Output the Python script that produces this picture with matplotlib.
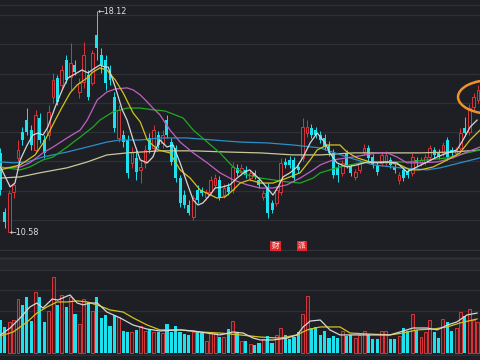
import matplotlib
matplotlib.use('Agg')
import matplotlib.pyplot as plt
from matplotlib.patches import Ellipse
import numpy as np

# daily candles (price)
opens = [13.29, 11.27, 10.59, 11.96, 13.12, 14.00, 14.41, 14.07, 13.39, 14.48,
         13.73, 13.90, 15.20, 15.85, 15.61, 16.46, 15.88, 16.29, 15.37, 15.71,
         15.95, 15.68, 17.32, 16.63, 16.46, 16.12, 15.20, 13.80, 13.90, 13.73,
         12.95, 13.12, 12.71, 12.95, 13.80, 13.46, 13.90, 13.63, 14.41, 13.66,
         13.46, 12.43, 11.85, 11.51, 11.10, 12.02, 12.02, 11.79, 11.96, 12.20,
         12.37, 11.85, 12.13, 12.02, 12.78, 12.64, 12.71, 12.43, 12.61, 12.37,
         11.79, 12.13, 11.58, 11.58, 11.96, 12.98, 13.05, 13.05, 12.81, 13.12,
         13.97, 14.14, 14.07, 13.90, 13.80, 13.56, 13.29, 12.78, 12.61, 13.29,
         12.81, 12.47, 12.71, 13.32, 13.46, 13.15, 12.88, 12.95, 12.95, 13.05,
         12.81, 12.37, 12.71, 12.64, 12.61, 13.05, 12.95, 12.98, 13.15, 13.39,
         13.32, 13.29, 13.73, 13.39, 13.29, 13.46, 14.14, 14.00, 14.86, 15.10]
closes = [12.02, 10.93, 11.92, 12.20, 13.39, 13.73, 14.00, 13.56, 14.59, 13.73,
          13.29, 14.69, 15.78, 15.03, 16.12, 15.78, 16.36, 16.05, 15.68, 16.63,
          15.20, 16.70, 16.87, 16.29, 15.68, 15.78, 14.14, 14.76, 13.66, 12.61,
          13.32, 12.64, 12.81, 13.39, 13.39, 14.07, 13.56, 13.90, 13.90, 12.98,
          12.43, 11.58, 11.51, 11.24, 11.75, 11.68, 11.92, 11.96, 12.37, 12.43,
          11.75, 12.09, 11.96, 12.81, 12.61, 12.78, 12.54, 12.61, 12.50, 12.20,
          11.92, 11.24, 11.34, 12.02, 12.95, 12.88, 12.88, 12.43, 12.71, 14.17,
          14.17, 13.90, 13.90, 13.73, 13.49, 13.29, 12.54, 12.54, 12.95, 12.88,
          12.61, 12.64, 12.95, 13.46, 13.12, 12.88, 12.64, 13.22, 13.22, 12.88,
          12.71, 12.54, 12.43, 12.54, 13.15, 12.95, 13.05, 13.15, 13.46, 13.22,
          13.19, 13.56, 13.15, 13.29, 13.39, 13.97, 13.97, 14.82, 15.20, 15.44]
highs = [13.46, 11.41, 12.02, 12.26, 13.73, 14.17, 14.82, 14.24, 14.76, 14.65,
         13.90, 14.93, 16.02, 15.95, 16.29, 16.63, 17.04, 16.46, 15.85, 17.07,
         16.12, 16.80, 18.12, 16.87, 16.63, 16.29, 15.37, 14.93, 14.07, 13.90,
         13.49, 13.39, 13.05, 13.56, 13.97, 14.24, 14.04, 14.07, 14.59, 13.80,
         13.56, 12.54, 12.02, 11.68, 11.85, 12.20, 12.13, 12.06, 12.50, 12.57,
         12.50, 12.23, 12.26, 12.98, 12.91, 12.91, 12.84, 12.71, 12.71, 12.47,
         12.02, 12.26, 11.68, 12.13, 13.12, 13.12, 13.19, 13.15, 12.95, 14.48,
         14.41, 14.28, 14.17, 14.04, 13.94, 13.70, 13.42, 12.91, 13.05, 13.39,
         12.91, 12.74, 13.05, 13.59, 13.56, 13.26, 12.98, 13.32, 13.36, 13.15,
         12.91, 12.64, 12.81, 12.74, 13.29, 13.15, 13.15, 13.26, 13.56, 13.49,
         13.42, 13.66, 13.83, 13.49, 13.49, 14.14, 14.52, 14.96, 15.34, 15.61]
lows = [11.85, 10.73, 10.58, 11.75, 12.88, 13.56, 13.90, 13.39, 13.32, 13.63,
        13.12, 13.73, 14.99, 14.93, 15.44, 15.68, 15.44, 15.95, 15.16, 15.51,
        15.10, 15.61, 16.46, 16.02, 15.44, 15.61, 14.00, 13.66, 13.49, 12.43,
        12.78, 12.37, 12.26, 12.78, 13.29, 13.32, 13.46, 13.46, 13.80, 12.88,
        12.30, 11.44, 11.41, 11.17, 11.00, 11.58, 11.82, 11.68, 11.85, 12.09,
        11.68, 11.75, 11.85, 11.92, 12.50, 12.54, 12.43, 12.33, 12.40, 12.09,
        11.68, 11.07, 11.24, 11.48, 11.85, 12.78, 12.78, 12.33, 12.61, 13.02,
        13.83, 13.80, 13.80, 13.63, 13.39, 13.19, 12.43, 12.30, 12.50, 12.78,
        12.50, 12.37, 12.61, 13.22, 13.02, 12.78, 12.54, 12.84, 12.84, 12.78,
        12.61, 12.23, 12.33, 12.43, 12.50, 12.84, 12.84, 12.88, 13.05, 13.12,
        13.08, 13.19, 13.05, 13.19, 13.19, 13.36, 13.87, 13.90, 14.76, 14.99]
volumes = [15.7, 12.4, 14.8, 15.7, 25.7, 22.9, 26.7, 15.2, 29.0, 26.7,
           14.8, 20.0, 36.2, 22.9, 27.6, 21.9, 26.7, 18.6, 13.8, 25.7,
           24.3, 20.0, 26.7, 16.7, 18.1, 12.9, 18.1, 17.1, 10.5, 10.0,
           10.0, 11.0, 12.9, 10.5, 11.4, 10.0, 10.0, 9.5, 13.8, 10.0,
           12.9, 10.0, 9.0, 8.6, 10.0, 10.5, 9.5, 5.7, 10.0, 9.5,
           7.6, 7.6, 11.4, 15.2, 10.0, 5.7, 5.7, 4.3, 3.8, 4.8,
           6.7, 8.1, 4.8, 8.6, 11.9, 8.6, 6.7, 7.6, 10.0, 18.6,
           27.1, 11.9, 12.4, 8.6, 10.5, 7.1, 8.1, 7.1, 10.5, 8.1,
           8.6, 7.1, 8.6, 10.5, 8.6, 6.7, 6.7, 10.5, 10.5, 6.7,
           6.7, 8.1, 11.9, 10.5, 18.6, 11.0, 7.6, 10.0, 15.7, 10.0,
           7.1, 16.2, 14.8, 10.5, 11.9, 19.5, 17.6, 20.9, 15.7, 14.8]

# moving average lines, sampled along the curves (x = candle index)
ma5_x = [0, 2.2, 3.3, 4.5, 6.1, 7.4, 8.6, 9.7, 10.8, 12.5, 14.1, 15.4, 16.6, 18.6,
         20.0, 21.6, 22.7, 23.9, 24.6, 26.2, 27.8, 28.9, 30.3, 31.9, 33.5, 34.8,
         35.7, 36.4, 38.0, 39.4, 41.0, 42.6, 44.0, 45.1, 46.2, 47.8, 49.0, 50.8,
         52.4, 54.0, 55.8, 56.9, 58.1, 59.3, 60.9, 62.2, 63.4, 64.5, 66.1, 67.7,
         69.1, 70.7, 72.3, 74.1, 75.2, 76.8, 79.1, 81.4, 83.7, 86.0, 88.3, 90.5,
         92.8, 95.1, 97.4, 99.7, 102.0, 104.2, 105.6, 107.2, 108.8]
ma5_y = [12.81, 12.13, 12.26, 13.05, 13.56, 13.90, 13.97, 13.90, 14.17, 14.86,
         15.44, 15.85, 15.95, 16.12, 16.02, 16.19, 16.29, 16.22, 16.22, 15.54,
         14.76, 14.41, 13.73, 13.05, 12.95, 13.15, 13.49, 13.73, 13.49, 13.56,
         12.95, 12.26, 11.68, 11.51, 11.58, 11.85, 12.09, 12.13, 12.20, 12.43,
         12.64, 12.71, 12.54, 12.37, 12.09, 11.85, 12.13, 12.47, 12.61, 12.81,
         13.15, 13.63, 13.97, 13.63, 13.29, 12.95, 12.81, 12.88, 12.98, 12.95,
         12.98, 12.95, 12.64, 12.81, 12.98, 13.15, 13.29, 13.39, 13.73, 14.17,
         14.41]
ma10_x = [0, 4.5, 7.9, 10.2, 12.5, 14.1, 15.9, 17.5, 19.8, 21.1, 22.7, 24.3, 26.2,
          28.0, 30.3, 31.9, 33.5, 36.0, 38.7, 41.0, 43.3, 45.6, 49.4, 51.3, 53.1,
          54.7, 56.9, 59.3, 62.2, 65.4, 68.4, 70.7, 72.3, 74.6, 77.5, 79.1, 81.4,
          84.4, 88.3, 91.2, 93.5, 95.8, 98.8, 102.0, 104.9, 107.2, 109.5]
ma10_y = [12.71, 12.88, 13.22, 13.73, 14.41, 14.86, 15.34, 15.61, 15.85, 16.05,
          16.19, 16.12, 15.78, 15.34, 14.65, 14.35, 13.73, 13.39, 13.29, 12.71,
          12.43, 12.02, 11.75, 11.79, 12.02, 12.26, 12.37, 12.26, 12.26, 12.43,
          12.61, 13.05, 13.39, 13.56, 13.56, 13.32, 13.12, 12.98, 12.98, 12.88,
          12.71, 12.71, 12.81, 13.05, 13.29, 13.73, 14.07]
ma20_x = [0, 4.5, 6.7, 9.7, 12.0, 15.2, 18.2, 19.8, 22.1, 24.3, 26.2, 28.9, 30.3,
          31.9, 33.5, 34.8, 36.4, 38.7, 41.0, 44.0, 47.2, 50.1, 53.1, 56.3, 59.3,
          62.2, 65.4, 68.4, 71.4, 73.0, 75.9, 80.5, 86.0, 88.3, 90.5, 92.8, 95.8,
          99.7, 103.3, 106.5, 109.5]
ma20_y = [12.78, 12.81, 12.95, 13.29, 13.49, 13.80, 14.07, 14.41, 15.10, 15.37,
          15.47, 15.51, 15.44, 15.27, 15.03, 14.82, 14.59, 14.07, 13.66, 13.29,
          12.95, 12.61, 12.37, 12.20, 12.09, 12.09, 12.20, 12.43, 12.71, 12.88,
          13.05, 13.15, 13.29, 13.29, 13.15, 12.95, 12.95, 12.98, 13.12, 13.32,
          13.49]
ma30_x = [0, 4.5, 6.7, 9.7, 12.0, 15.2, 18.2, 21.1, 22.7, 25.7, 28.9, 31.9, 34.8,
          37.6, 41.7, 44.0, 47.2, 50.1, 53.1, 56.3, 59.3, 62.2, 65.4, 68.4, 71.4,
          73.0, 77.5, 82.1, 88.3, 92.8, 97.4, 102.0, 106.5, 109.5]
ma30_y = [12.81, 12.71, 12.81, 13.05, 13.15, 13.49, 13.83, 14.17, 14.41, 14.69,
          14.82, 14.82, 14.76, 14.72, 14.48, 14.07, 13.66, 13.29, 12.81, 12.54,
          12.43, 12.37, 12.30, 12.26, 12.43, 12.61, 12.81, 12.95, 12.98, 12.98,
          13.05, 13.12, 13.29, 13.39]
ma60_x = [0, 2.9, 6.1, 9.7, 15.2, 19.8, 24.3, 27.3, 31.9, 36.4, 42.6, 48.5, 54.7,
          60.9, 66.8, 73.0, 79.1, 85.1, 91.2, 97.4, 100.4, 104.9, 109.5]
ma60_y = [12.98, 12.95, 12.98, 13.15, 13.32, 13.49, 13.66, 13.73, 13.73, 13.80,
          13.80, 13.73, 13.66, 13.63, 13.56, 13.46, 13.15, 12.88, 12.78, 12.71,
          12.78, 12.95, 13.12]
ma120_x = [0, 4.5, 9.0, 15.2, 19.8, 24.3, 28.9, 36.4, 44.0, 51.7, 59.3, 66.8,
           73.0, 80.5, 88.3, 95.8, 103.3, 109.5]
ma120_y = [12.43, 12.47, 12.61, 12.78, 12.98, 13.22, 13.29, 13.36, 13.36, 13.32,
           13.29, 13.22, 13.22, 13.29, 13.29, 13.29, 13.32, 13.39]

vma5_x = [0, 2.2, 4.5, 6.7, 8.3, 9.7, 11.8, 13.1, 15.2, 15.9, 17.5, 18.9, 20.4,
          22.1, 24.3, 27.3, 30.3, 33.5, 36.4, 41.0, 44.0, 47.2, 50.1, 53.1, 55.4,
          57.7, 59.3, 62.2, 65.4, 67.7, 69.1, 70.7, 73.0, 75.2, 77.5, 80.5, 84.4,
          88.9, 91.2, 94.2, 97.4, 99.7, 102.0, 104.2, 106.5, 108.8]
vma5_y = [8.6, 11.9, 16.7, 21.9, 23.8, 21.4, 25.7, 25.2, 27.1, 27.6, 23.8, 22.9,
          23.8, 23.8, 19.5, 16.7, 13.3, 11.4, 10.5, 11.0, 10.5, 9.5, 8.6, 10.0,
          9.5, 7.1, 6.2, 6.2, 7.1, 8.6, 12.4, 15.2, 15.7, 11.0, 8.6, 8.6, 8.6,
          8.6, 10.0, 11.9, 11.9, 11.0, 13.3, 14.8, 18.1, 19.0]
vma10_x = [0, 2.9, 6.1, 8.3, 10.6, 12.9, 15.2, 17.5, 19.8, 22.7, 25.0, 28.0, 30.3,
           33.5, 36.4, 41.0, 45.6, 50.1, 54.7, 59.3, 63.8, 67.7, 70.0, 73.0, 77.5,
           79.8, 84.4, 88.9, 91.9, 95.1, 98.8, 102.0, 104.9, 108.8]
vma10_y = [8.1, 10.0, 14.8, 19.0, 21.9, 24.3, 24.3, 24.8, 24.3, 22.4, 20.5, 19.5,
           16.7, 13.3, 11.0, 11.0, 10.0, 9.5, 8.6, 7.6, 7.1, 8.6, 11.0, 12.4, 12.4,
           9.5, 9.0, 8.6, 9.5, 11.0, 11.4, 12.4, 14.3, 16.2]

BG = '#1e1f24'
GRID = '#2e3036'
UP = '#d8353a'
DOWN = '#1be2ee'

fig = plt.figure(figsize=(4.8, 3.6), dpi=100, facecolor=BG)

# price panel
ax = fig.add_axes([0, 1 - 251 / 360, 1, 251 / 360])
ax.axis('off')
ax.set_xlim(-0.11, 109.47)
ax.set_ylim(9.94, 18.51)
for lvl in [11, 12, 13, 14, 15, 16, 17, 18, 18.35]:
    ax.axhline(lvl, color=GRID, lw=0.9, zorder=0)
ax.axhline(9.975, color='#303238', lw=1.0, zorder=0)

idx = np.arange(len(opens))
o = np.array(opens)
c = np.array(closes)
up = c >= o
cols = np.where(up, UP, DOWN)

ax.vlines(idx, lows, highs, colors=cols, lw=0.7, zorder=2)
bottoms = np.minimum(o, c)
heights = np.maximum(np.abs(c - o), 0.02)
ax.bar(idx[up], heights[up], bottom=bottoms[up], width=0.62,
       facecolor=BG, edgecolor=UP, linewidth=0.7, zorder=3)
ax.bar(idx[~up], heights[~up], bottom=bottoms[~up], width=0.68,
       color=DOWN, linewidth=0, zorder=3)

ax.plot(ma120_x, ma120_y, color='#c9c79a', lw=0.9, zorder=4)
ax.plot(ma60_x, ma60_y, color='#2b8fc8', lw=0.9, zorder=4)
ax.plot(ma30_x, ma30_y, color='#1faa1f', lw=0.9, zorder=4)
ax.plot(ma20_x, ma20_y, color='#c060c4', lw=0.9, zorder=4)
ax.plot(ma10_x, ma10_y, color='#d3c31c', lw=0.9, zorder=4)
ax.plot(ma5_x, ma5_y, color='#d6d6d6', lw=0.9, zorder=5)

ax.text(22.15, 18.12, '\u219018.12', fontsize=5.8, color='#e0e0e0',
        va='center', ha='left', zorder=6)
ax.text(2.15, 10.58, '\u219010.58', fontsize=5.8, color='#e0e0e0',
        va='center', ha='left', zorder=6)

ax.add_patch(Ellipse((112.2, 15.20), width=15.5, height=1.16, fill=False,
                     edgecolor='#f0922b', lw=1.8, zorder=7))

for xm, ch in [(62.8, '财'), (68.8, '派')]:
    ax.text(xm, 10.11, ch, fontsize=5.5, color='white', ha='center', va='center',
            family=['Noto Sans CJK SC', 'DejaVu Sans'], zorder=6,
            bbox=dict(boxstyle='square,pad=0.18', fc='#e3262b', ec='none'))

# volume panel
axv = fig.add_axes([0, 4 / 360, 1, 99 / 360])
axv.axis('off')
axv.set_xlim(-0.11, 109.47)
axv.set_ylim(-1.43, 45.7)
axv.axhspan(39.5, 46, color='#24252a', lw=0, zorder=0)
axv.axhline(45.4, color='#303238', lw=1.0, zorder=0)
for lvl in [20, 30, 39.5]:
    axv.axhline(lvl, color=GRID, lw=0.9, zorder=0)
axv.axhline(-0.9, color=GRID, lw=1.0, zorder=0)

v = np.array(volumes)
axv.bar(idx[up], v[up], width=0.68, facecolor='#3f1c20', edgecolor=UP,
        linewidth=0.7, zorder=2)
axv.bar(idx[~up], v[~up], width=0.72, color=DOWN, linewidth=0, zorder=2)
axv.plot(vma10_x, vma10_y, color='#d3c31c', lw=0.9, zorder=3)
axv.plot(vma5_x, vma5_y, color='#d6d6d6', lw=0.9, zorder=4)

fig.savefig('out.png', dpi=100, facecolor=BG)
